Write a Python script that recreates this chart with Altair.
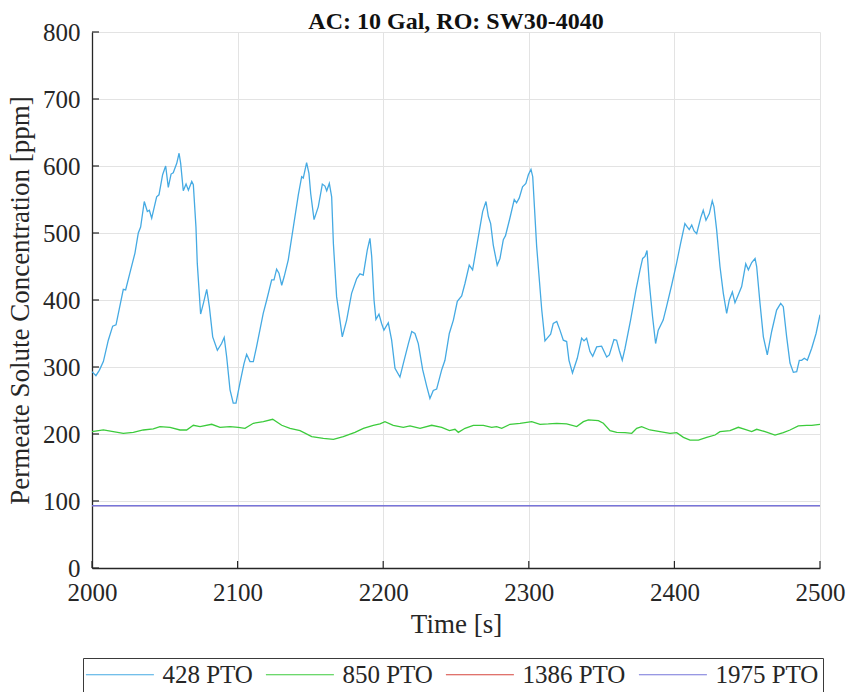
import altair as alt
import pandas as pd

# ---- permeate concentration traces (time in s, concentration in ppm) ----
t428 = [
    2000, 2002.7, 2005, 2007.8, 2011.2, 2014.2, 2016.5, 2021.5, 2023.1, 2026,
    2029.5, 2031.8, 2033.4, 2035.9, 2038, 2039.4, 2041, 2044.4, 2046, 2048.5,
    2050.6, 2052.4, 2054.3, 2055.8, 2058.2, 2059.8, 2060.9, 2062.7, 2064.6, 2066.2,
    2068.5, 2069.6, 2071.4, 2072.3, 2074.6, 2076.5, 2078.8, 2080.6, 2082.9, 2086.1,
    2089, 2090.8, 2092.5, 2094.8, 2097, 2098.9, 2101.6, 2104.4, 2106.2, 2108.5,
    2110.8, 2113, 2117.6, 2120, 2123.4, 2125, 2126.8, 2128.4, 2130.3, 2132,
    2134.8, 2138.3, 2141.7, 2144, 2145.1, 2147.4, 2149, 2150.2, 2152.5, 2155.4,
    2158.2, 2160, 2161.2, 2163, 2164.6, 2165.8, 2168, 2171.9, 2174.9, 2178.3,
    2181.8, 2184, 2186.3, 2189.1, 2190.9, 2192.1, 2193.7, 2195, 2197.1, 2198.9,
    2200.5, 2203.5, 2205.8, 2208.1, 2211.5, 2213.8, 2217.3, 2219.6, 2221.8, 2224.1,
    2227.1, 2229.9, 2232.1, 2234.4, 2236.7, 2240.2, 2242.4, 2245.4, 2248.2, 2250.9,
    2253.9, 2256.2, 2259.1, 2261.4, 2264.2, 2268.3, 2270.6, 2272.2, 2273.8, 2275.6,
    2278.3, 2280.2, 2282.5, 2284, 2287, 2290, 2291.6, 2293.4, 2295.7, 2298,
    2299.7, 2301.5, 2302.7, 2305.4, 2308.9, 2311.1, 2313.4, 2315, 2316.8, 2319.2,
    2321.4, 2323.7, 2326, 2327.6, 2330, 2333.3, 2336.3, 2337.9, 2339.7, 2342,
    2343.9, 2346.6, 2350, 2353.5, 2355.3, 2358.5, 2360.3, 2362.1, 2364.2, 2366.1,
    2369.9, 2373.6, 2376.4, 2378.2, 2379.8, 2381.2, 2382.7, 2385, 2387.1, 2388.9,
    2392.3, 2394.6, 2398.1, 2401.5, 2404.3, 2407.2, 2408.8, 2410.2, 2411.9, 2413.5,
    2415.3, 2418.1, 2419.8, 2421.7, 2424, 2426, 2427.2, 2429, 2431.3, 2433.6,
    2435.9, 2437.7, 2439.8, 2441.6, 2443.9, 2446.2, 2449, 2450.8, 2453.1, 2455.4,
    2456.5, 2458.8, 2461.1, 2463.8, 2466.8, 2470.2, 2473, 2474.8, 2477.1, 2479.4,
    2481.7, 2484, 2485.8, 2487.4, 2489.2, 2491.3, 2494.3, 2497.3, 2500,
]
c428 = [
    293, 287, 295, 308, 340, 361, 363, 416, 415, 440,
    470, 500, 509, 547, 532, 534, 522, 554, 557, 587,
    600, 568, 588, 590, 604, 619, 604, 563, 573, 564,
    577, 572, 509, 455, 379, 395, 416, 390, 345, 325,
    335, 344, 315, 266, 246, 246, 276, 305, 319, 308,
    308, 330, 380, 400, 430, 430, 446, 440, 422, 435,
    460, 509, 557, 584, 582, 605, 589, 559, 520, 539,
    573, 570, 563, 574, 554, 484, 405, 345, 370, 410,
    432, 439, 437, 475, 492, 465, 400, 371, 379, 365,
    355, 366, 340, 298, 285, 305, 335, 353, 350, 335,
    296, 271, 253, 265, 267, 296, 310, 350, 370, 398,
    406, 425, 452, 445, 480, 532, 547, 525, 514, 482,
    452, 462, 490, 496, 522, 550, 545, 552, 569, 574,
    587, 595, 584, 480, 385, 339, 345, 349, 365, 368,
    355, 340, 338, 310, 291, 313, 343, 339, 343, 323,
    316, 330, 331, 315, 318, 341, 340, 325, 310, 328,
    370, 415, 445, 462, 465, 474, 427, 375, 335, 355,
    370, 390, 422, 455, 485, 514, 509, 505, 512, 503,
    499, 523, 534, 519, 529, 548, 539, 505, 450, 410,
    380, 400, 412, 396, 408, 420, 454, 445, 456, 462,
    450, 395, 345, 318, 353, 385, 395, 390, 345, 306,
    292, 293, 310, 310, 313, 310, 328, 350, 378,
]

t850 = [
    2000, 2007.8, 2014.6, 2021.5, 2028.4, 2035.2, 2042.1, 2046.7, 2053.6, 2060.4,
    2065, 2069.6, 2074.2, 2082.2, 2087.9, 2094.8, 2100.5, 2105.1, 2110.8, 2117.7,
    2124.1, 2130.3, 2136, 2142.9, 2150.9, 2158.9, 2165.8, 2172.6, 2180.6, 2186.4,
    2193.2, 2197.8, 2201.2, 2206.9, 2213.8, 2218.4, 2225.3, 2233.3, 2240.2, 2245.5,
    2249.3, 2251.6, 2256.2, 2261.9, 2268.8, 2274.5, 2277.9, 2281.4, 2287.1, 2294,
    2302, 2307.7, 2313.4, 2319.2, 2326, 2332.9, 2337.5, 2340.9, 2347.8, 2351.2,
    2355.8, 2360.4, 2366.1, 2370.7, 2374.1, 2377.5, 2383.2, 2390.1, 2397, 2401.6,
    2406.2, 2410.7, 2416.5, 2422.2, 2427.9, 2431.3, 2438.2, 2443.9, 2448.5, 2453.1,
    2456.5, 2462.3, 2469.1, 2474.8, 2479.4, 2485.1, 2490.9, 2494.3, 2500,
]
c850 = [
    203.5, 206, 203.5, 201, 202.5, 206, 207.5, 211, 210, 206,
    206, 213, 211, 214.5, 210, 211, 210, 208.5, 216, 218.4,
    222, 213, 208.5, 205, 196, 193.5, 192, 196, 202.5, 208.5,
    213, 215, 218.4, 213, 210, 212, 208.5, 213, 210, 205,
    207, 202.5, 208.5, 213, 213, 210, 211, 208.5, 214.5, 216,
    218.4, 214.5, 215, 216, 215, 211, 218.4, 221, 220, 216,
    205, 202.5, 202, 201, 208.5, 211, 206, 203.5, 201, 202,
    195, 191, 191, 195, 198.5, 203.5, 205, 210, 207, 203.5,
    207, 203.5, 198.5, 202, 206, 212, 213, 213, 214.5,
]

t_flat = [2000, 2500]
c1386 = [93, 93]
c1975 = [93, 93]

series_names = ["428 PTO", "850 PTO", "1386 PTO", "1975 PTO"]
series_colors = ["#45AAE3", "#3CCB3C", "#D6453D", "#7676DA"]
series_widths = [1.3, 1.3, 0.8, 1.6]

x_ticks = [2000, 2100, 2200, 2300, 2400, 2500]
y_ticks = [0, 100, 200, 300, 400, 500, 600, 700, 800]

rows = []
for name, width, ts, cs in [
    ("428 PTO", series_widths[0], t428, c428),
    ("850 PTO", series_widths[1], t850, c850),
    ("1386 PTO", series_widths[2], t_flat, c1386),
    ("1975 PTO", series_widths[3], t_flat, c1975),
]:
    for t, c in zip(ts, cs):
        rows.append({"time": t, "conc": c, "series": name, "lw": width})
df = pd.DataFrame(rows)

SERIF = "Times New Roman, Liberation Serif, serif"
INK = "#262626"
W, H = 728, 536

x_scale = alt.Scale(domain=[2000, 2500], nice=False, zero=False)
y_scale = alt.Scale(domain=[0, 800], nice=False)

axis_common = dict(
    labelFont=SERIF,
    labelFontSize=25,
    labelFontWeight="normal",
    labelColor=INK,
    labelFlush=False,
    titleFont=SERIF,
    titleFontSize=27,
    titleFontWeight="normal",
    titleColor=INK,
    domainColor=INK,
    domainWidth=1.3,
    tickSize=0,
    gridColor="#E3E3E3",
    gridWidth=1,
)
x_axis = alt.Axis(title="Time [s]", values=x_ticks, format="d",
                  labelPadding=12, titlePadding=6, **axis_common)
y_axis = alt.Axis(title="Permeate Solute Concentration [ppm]", values=y_ticks,
                  format="d", labelPadding=12, titlePadding=8, **axis_common)

# legend sample: a horizontal stroke about 68 px long
LEG_UNIT = 13.6
legend_line = "M-2,0H8"

lines = alt.Chart(df).mark_line(clip=True).encode(
    x=alt.X("time:Q", scale=x_scale, axis=x_axis),
    y=alt.Y("conc:Q", scale=y_scale, axis=y_axis),
    strokeWidth=alt.StrokeWidth("lw:Q", scale=None, legend=None),
    color=alt.Color(
        "series:N",
        scale=alt.Scale(domain=series_names, range=series_colors),
        sort=series_names,
        legend=alt.Legend(
            title=None,
            orient="none",
            legendX=-9,
            legendY=626,
            direction="horizontal",
            columns=4,
            symbolType=legend_line,
            symbolSize=LEG_UNIT * LEG_UNIT,
            symbolStrokeWidth=1.2,
            labelFont=SERIF,
            labelFontSize=25,
            labelFontWeight="normal",
            labelColor=INK,
            labelOffset=50.4,
            columnPadding=10,
            padding=4,
            strokeColor="#3A3A3A",
            fillColor="white",
        ),
    ),
)

# inward-pointing tick marks on the left and bottom axes
y_tick_df = pd.DataFrame({"v": y_ticks})
x_tick_df = pd.DataFrame({"v": x_ticks})

y_tick_rules = alt.Chart(y_tick_df).mark_rule(color=INK, strokeWidth=1.2).encode(
    y=alt.Y("v:Q", scale=y_scale, axis=y_axis),
    x=alt.value(0),
    x2=alt.value(7),
)
x_tick_rules = alt.Chart(x_tick_df).mark_rule(color=INK, strokeWidth=1.2).encode(
    x=alt.X("v:Q", scale=x_scale, axis=x_axis),
    y=alt.value(H),
    y2=alt.value(H - 7),
)

chart = (
    alt.layer(lines, y_tick_rules, x_tick_rules)
    .properties(
        width=W,
        height=H,
        autosize=alt.AutoSizeParams(type="none"),
        padding={"left": 92, "top": 32, "right": 27, "bottom": 124},
        title=alt.TitleParams(
            "AC: 10 Gal, RO: SW30-4040",
            font=SERIF,
            fontSize=24,
            fontWeight="bold",
            color="#111111",
            anchor="middle",
            offset=-14,
        ),
        background="white",
    )
    .configure(font=SERIF)
    .configure_axis(labelFont=SERIF, titleFont=SERIF)
    .configure_legend(labelFont=SERIF)
    .configure_view(stroke=None)
)

chart.save("out.html", embed_options={"renderer": "svg", "actions": False})
